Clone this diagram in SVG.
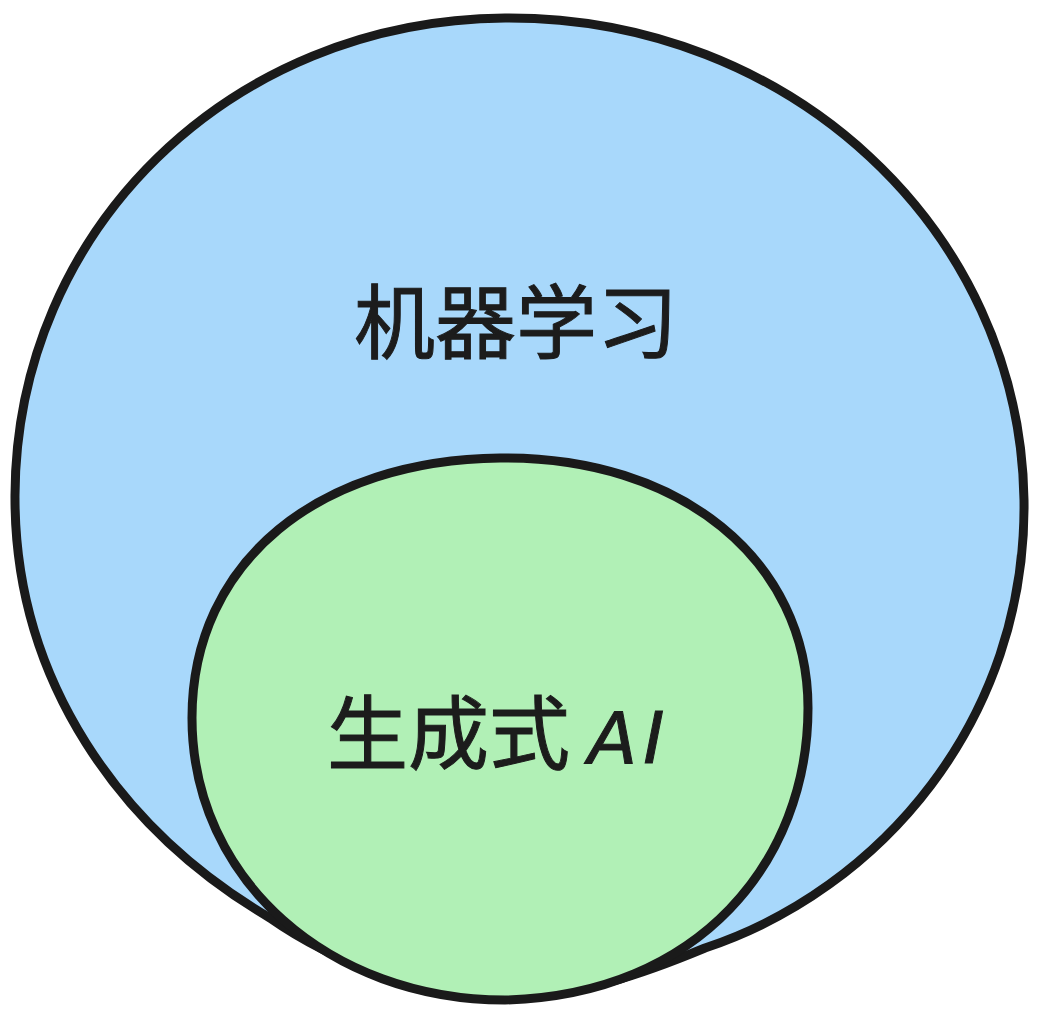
<svg xmlns="http://www.w3.org/2000/svg" width="1039" height="1024" viewBox="0 0 1039 1024">
<style>
.shape{stroke:#1a1a1a;stroke-width:9;stroke-linejoin:round}
.lbl{font-family:"Noto Sans CJK SC","Noto Sans",sans-serif;font-size:81px;fill:#1c1c1c;stroke:#1c1c1c;stroke-width:1}
.ai{font-family:"DejaVu Sans","Noto Sans",sans-serif;font-style:italic;font-size:72px;letter-spacing:6px}
</style>
<rect width="1039" height="1024" fill="#ffffff"/>
<g id="ml">
<path class="shape" fill="#a8d8fb" d="M505,18 C790,16 1020,230 1024,500 C1027,720 880,890 705,948 C640,975 580,995 515,997 C420,997 330,960 270,918 C120,830 14,680 15,495 C16,230 230,20 505,18 Z"/>
<text class="lbl" x="516" y="352" text-anchor="middle">机器学习</text>
</g>
<g id="genai">
<path class="shape" fill="#b1f0b6" d="M500,458 C680,456 808,560 808,708 C808,860 700,995 505,1000 C330,1000 192,880 192,718 C192,560 320,460 500,458 Z"/>
<text class="lbl" x="327" y="763">生成式<tspan class="ai" dx="18">AI</tspan></text>
</g>
</svg>
